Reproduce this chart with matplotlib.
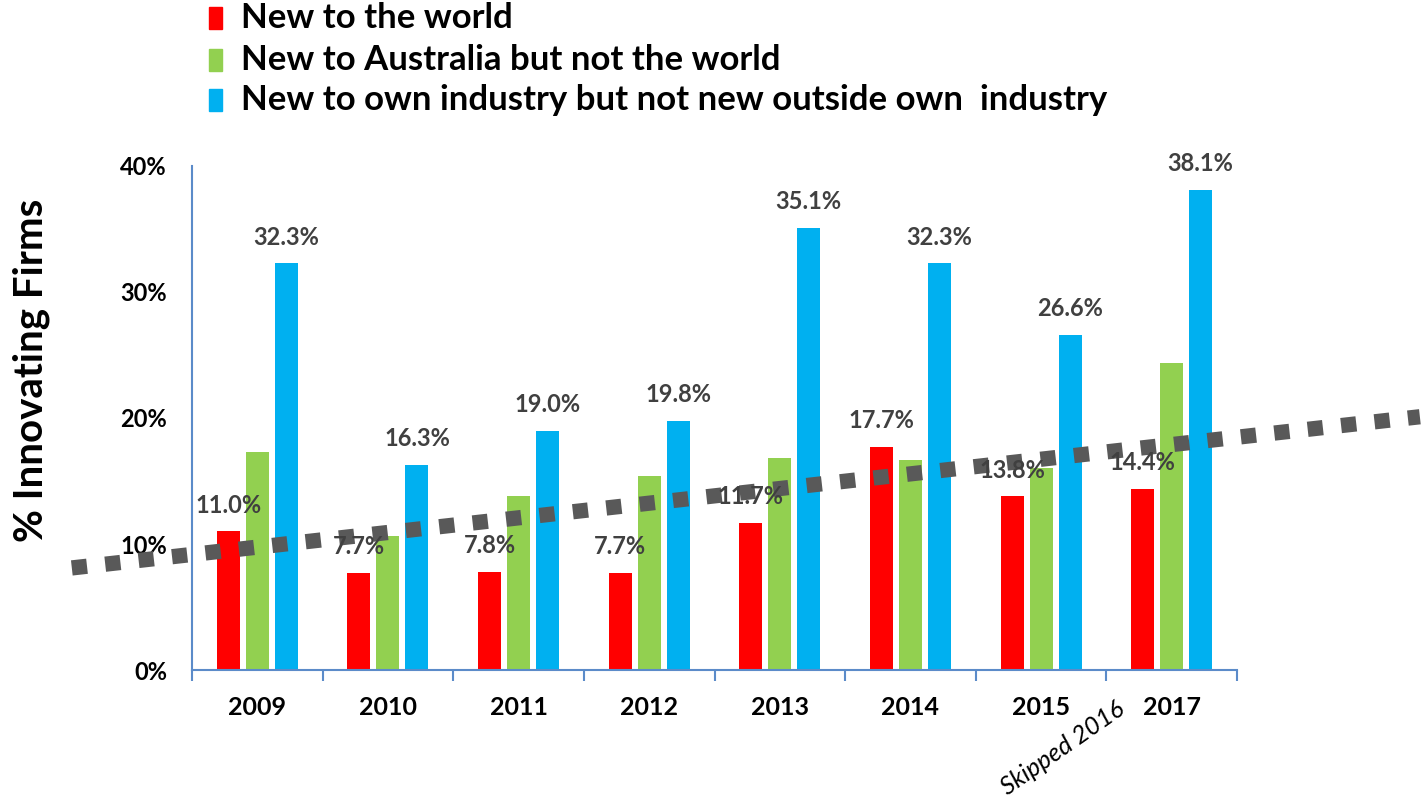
import matplotlib
matplotlib.use("Agg")
import matplotlib.pyplot as plt
import numpy as np
from matplotlib.patches import Rectangle

years = ["2009", "2010", "2011", "2012", "2013", "2014", "2015", "2017"]
series_names = ["New to the world",
                "New to Australia but not the world",
                "New to own industry but not new outside own  industry"]
new_world = [11.0, 7.7, 7.8, 7.7, 11.7, 17.7, 13.8, 14.4]
new_australia = [17.3, 10.6, 13.8, 15.4, 16.8, 16.7, 16.0, 24.4]
new_industry = [32.3, 16.3, 19.0, 19.8, 35.1, 32.3, 26.6, 38.1]
# trend line endpoints (category index, percent)
trend_x = [-1.42, 8.90]
trend_y = [8.1, 20.1]
yticks = [0, 10, 20, 30, 40]

colors = ["#FF0000", "#92D050", "#00B0F0"]
FONT = ["Lato", "DejaVu Sans"]
plt.rcParams['font.family'] = FONT

fig = plt.figure(figsize=(14.24, 7.99), dpi=100)
ax = fig.add_axes([192/1424, 1-670/799, (1237-192)/1424, (670-166)/799])

x = np.arange(len(years))
bw = 0.176
off = 0.222
data = [new_world, new_australia, new_industry]
for i, (vals, c) in enumerate(zip(data, colors)):
    ax.bar(x + (i-1)*off, vals, width=bw, color=c, zorder=2)

for vals, i in ((new_world, 0), (new_industry, 2)):
    for xi, v in zip(x, vals):
        ax.annotate(f"{v:.1f}%", (xi + (i-1)*off, v), xytext=(0, 26),
                    textcoords="offset pixels", ha="center", va="center",
                    fontsize=17, fontweight="bold", color="#404040", zorder=4)

ax.plot(trend_x, trend_y, color="#595959", lw=11,
        linestyle=(0, (1.0, 1.2)), solid_capstyle="butt",
        dash_capstyle="butt", clip_on=False, zorder=3)

ax.set_xlim(-0.5, len(years)-0.5)
ax.set_ylim(0, 40)
ax.set_yticks(yticks)
ax.set_yticklabels([f"{t}%" for t in yticks], fontsize=17, fontweight="bold")
ax.tick_params(axis="y", length=0, pad=18)
ax.set_xticks(x)
ax.set_xticklabels(years, fontsize=18, fontweight="bold")
ax.set_xticks(np.arange(-0.5, len(years)), minor=True)
ax.tick_params(axis="x", which="major", length=0, pad=19)
ax.tick_params(axis="x", which="minor", length=8, width=1.5, color="#5B8BC9")

for s in ["top", "right"]:
    ax.spines[s].set_visible(False)
for s in ["left", "bottom"]:
    ax.spines[s].set_color("#5B8BC9")
    ax.spines[s].set_linewidth(1.5)

ax.set_ylabel("% Innovating Firms", fontsize=29, fontweight="bold")
ax.yaxis.set_label_coords((50-192)/(1237-192), (670-370)/(670-166))

# legend
leg_y = [18, 60, 100]
for name, c, yy in zip(series_names, colors, leg_y):
    fig.patches.append(Rectangle((209/1424, 1-(yy+11)/799), 13/1424, 22/799,
                                 transform=fig.transFigure, color=c))
    fig.text(241/1424, 1-yy/799, name, fontsize=25, fontweight="bold",
             va="center", ha="left", color="black")

fig.text(1063/1424, 1-748/799, "Skipped 2016", fontsize=18, style="italic",
         rotation=35, ha="center", va="center", color="black")

fig.savefig("out.png", dpi=100)
